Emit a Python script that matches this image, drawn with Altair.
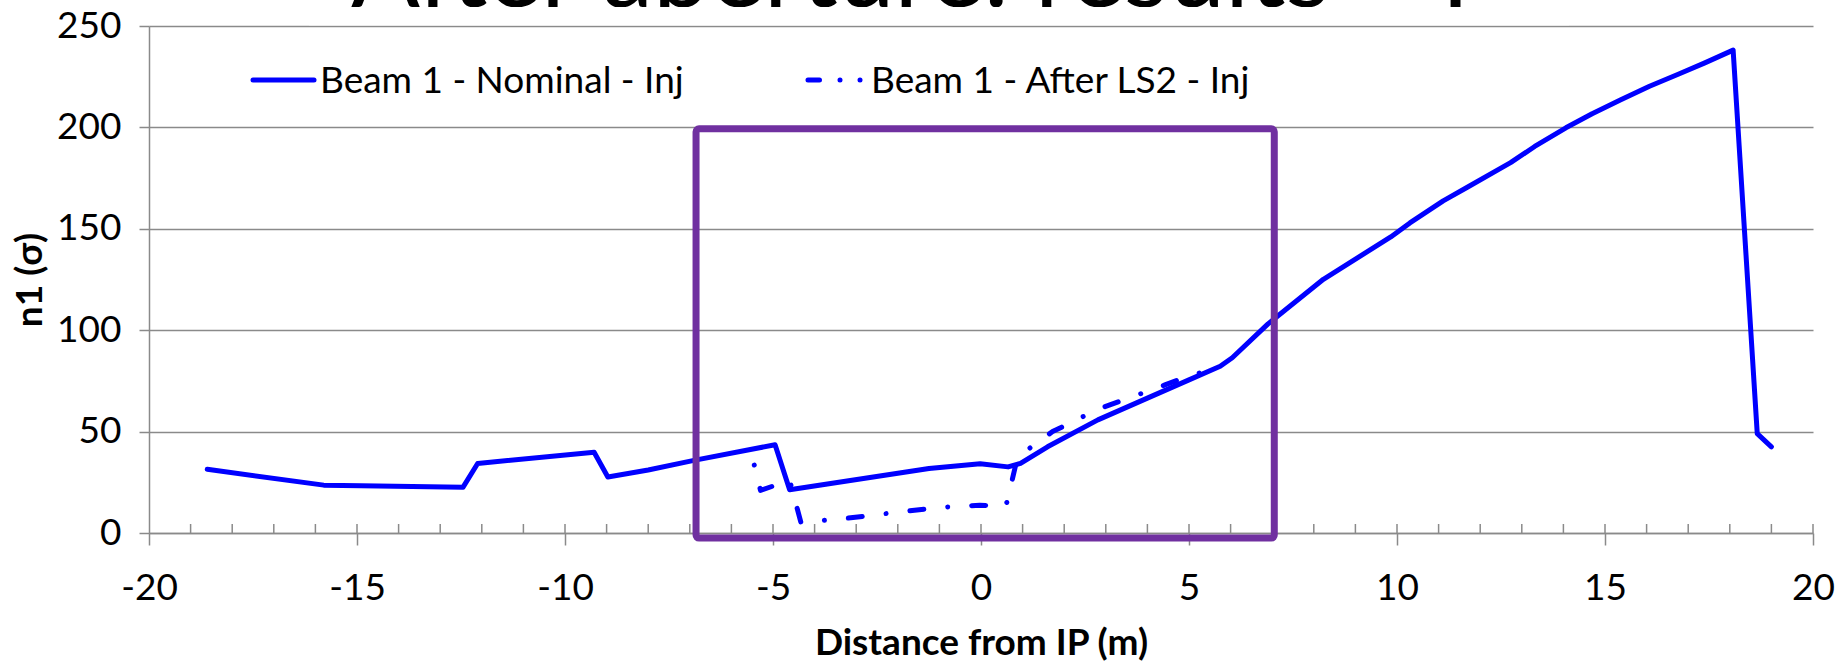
import altair as alt
import pandas as pd

# ---- data -------------------------------------------------------------
series_names = ["Beam 1 - Nominal - Inj", "Beam 1 - After LS2 - Inj"]

nominal_s = [-18.6, -15.8, -14.9, -12.45, -12.1, -9.3, -8.97, -8.0, -6.9,
             -4.95, -4.6, -1.25, -0.02, 0.65, 0.95, 1.6, 2.81, 4.0, 5.0, 5.75,
             6.04, 6.9, 8.23, 9.85, 10.31, 11.11, 11.69, 12.73, 13.31, 14.06,
             14.69, 15.38, 16.07, 16.76, 17.4, 18.08, 18.66, 19.0]
nominal_n1 = [31.4, 23.6, 23.3, 22.6, 34.3, 39.8, 27.6, 31.1, 35.8,
              43.5, 21.3, 31.8, 34.2, 32.6, 34.3, 42.5, 55.8, 66.5, 75.5, 82.2,
              86.4, 103.1, 125.1, 146.0, 152.9, 163.8, 170.5, 182.6, 190.6, 199.8,
              206.7, 213.6, 220.3, 226.2, 231.8, 238.1, 49.0, 42.5]

ls2_s = [-5.45, -5.3, -4.6, -4.33, -3.25, -1.98, -1.01, -0.03, 0.6, 0.88,
         1.72, 2.18, 2.81, 4.42, 4.94, 5.6]
ls2_n1 = [33.5, 21.0, 26.0, 5.3, 7.2, 10.3, 12.6, 13.7, 13.3, 37.5,
          50.0, 54.6, 61.0, 73.0, 77.0, 81.0]

# highlighted region (s range, n1 range)
box_s = [-6.85, 7.05]
box_n1 = [-2.5, 199.3]

x_ticks = list(range(-20, 21, 5))
minor_ticks = list(range(-19, 21))
y_ticks = list(range(0, 251, 50))

title_text = "After aperture: results \u2013 I"

# ---- style ------------------------------------------------------------
W, H = 1664, 507
FONT = "Lato"
BLUE = "#0000FF"
PURPLE = "#7030A0"
GRID = "#8a8a8a"
LW = 5

df_nom = pd.DataFrame({"s": nominal_s, "n1": nominal_n1, "i": range(len(nominal_s))})
df_ls2 = pd.DataFrame({"s": ls2_s, "n1": ls2_n1, "i": range(len(ls2_s))})
df_box = pd.DataFrame({"s": [box_s[0]], "s2": [box_s[1]], "n1": [box_n1[0]], "n2": [box_n1[1]]})
df_minor = pd.DataFrame({"s": minor_ticks})

xscale = alt.Scale(domain=[-20, 20], nice=False, zero=False)
yscale = alt.Scale(domain=[0, 250], nice=False)

x_axis = alt.Axis(values=x_ticks, grid=False, tickSize=12, labelPadding=25,
                  labelFlush=False, labelExpr="'' + datum.value",
                  title="Distance from IP (m)", titleY=121, titleBaseline="alphabetic")
y_axis = alt.Axis(values=y_ticks, grid=True, tickSize=10, labelPadding=18,
                  title="n1 (\u03c3)", titleAngle=270, titleX=-108, titleY=H / 2,
                  titleAlign="center", titleBaseline="alphabetic")

# slide heading, its lower part hidden behind the plot panel
heading = alt.Chart(pd.DataFrame({"t": [title_text]})).mark_text(
    font=FONT, fontSize=102, align="left", baseline="alphabetic", color="black"
).encode(x=alt.value(202), y=alt.value(-19), text="t:N")

heading_mask = alt.Chart(pd.DataFrame({"k": [0]})).mark_rect(color="white").encode(
    x=alt.value(160), x2=alt.value(1420), y=alt.value(-19), y2=alt.value(-0.8)
)

minor = alt.Chart(df_minor).mark_rule(color=GRID, strokeWidth=1.5).encode(
    x=alt.X("s:Q", scale=xscale, axis=x_axis),
    y=alt.value(H), y2=alt.value(H - 9),
)

nominal = alt.Chart(df_nom).mark_line(
    color=BLUE, strokeWidth=LW, strokeJoin="round", strokeCap="round"
).encode(
    x=alt.X("s:Q", scale=xscale, axis=x_axis),
    y=alt.Y("n1:Q", scale=yscale, axis=y_axis),
    order="i:Q",
)

after_ls2 = alt.Chart(df_ls2).mark_line(
    color=BLUE, strokeWidth=LW, strokeCap="round", strokeJoin="round",
    strokeDash=[0.01, 24, 14, 24],
).encode(
    x=alt.X("s:Q", scale=xscale),
    y=alt.Y("n1:Q", scale=yscale),
    order="i:Q",
)

box = alt.Chart(df_box).mark_rect(
    fillOpacity=0, stroke=PURPLE, strokeWidth=7, cornerRadius=3
).encode(
    x=alt.X("s:Q", scale=xscale), x2="s2:Q",
    y=alt.Y("n1:Q", scale=yscale), y2="n2:Q",
)

# legend drawn inside the plot area
LEG_Y = 54
leg_solid = alt.Chart(pd.DataFrame({"k": [0]})).mark_rule(
    color=BLUE, strokeWidth=LW, strokeCap="round"
).encode(x=alt.value(104), x2=alt.value(165), y=alt.value(LEG_Y))
leg_dash = alt.Chart(pd.DataFrame({"k": [0]})).mark_rule(
    color=BLUE, strokeWidth=LW, strokeCap="round",
    strokeDash=[11.5, 20.5, 0.01, 20, 0.01, 100],
).encode(x=alt.value(659), x2=alt.value(712), y=alt.value(LEG_Y))
leg_text = alt.Chart(pd.DataFrame({"name": series_names, "px": [171, 722]})).mark_text(
    font=FONT, fontSize=37, align="left", baseline="middle", color="black", dy=2
).encode(x=alt.X("px:Q", scale=None), y=alt.value(LEG_Y), text="name:N")

chart = alt.layer(
    heading, heading_mask, minor, nominal, after_ls2, box, leg_solid, leg_dash, leg_text
).properties(
    width=W, height=H,
    autosize=alt.AutoSizeParams(type="none"),
    padding={"left": 149, "top": 26, "right": 32, "bottom": 131},
    background="white",
).configure_view(
    stroke=None
).configure_axis(
    domainColor=GRID, domainWidth=1.5,
    tickColor=GRID, tickWidth=1.5,
    gridColor=GRID, gridWidth=1.5,
    labelFont=FONT, labelFontSize=37, labelColor="black",
    titleFont=FONT, titleFontSize=37, titleFontWeight="bold", titleColor="black",
)

chart.save("out.html", embed_options={"renderer": "svg", "actions": False})
